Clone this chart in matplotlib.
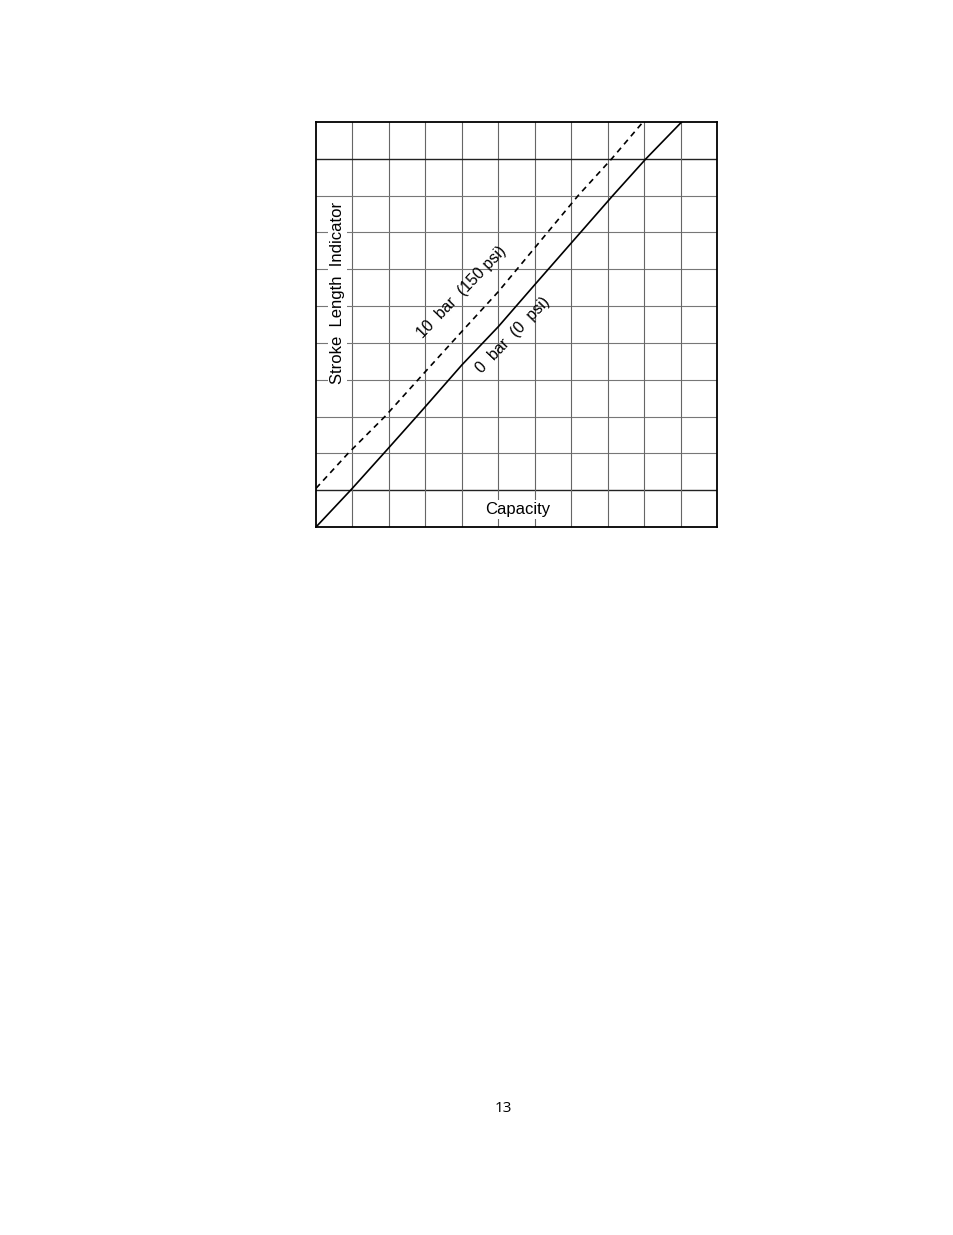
import matplotlib
matplotlib.use("Agg")
import matplotlib.pyplot as plt

# Data (grid units, 11 x 11 grid)
zero_bar_x = [0, 0.95, 1.95, 2.76, 3.0, 4.0, 5.0, 6.0, 8.14, 9.05, 10.03]
zero_bar_y = [0, 1, 2.1, 3, 3.27, 4.4, 5.44, 6.58, 9, 10, 11]
ten_bar_x = [0, 0.88, 1.89, 3.0, 4.0, 5.0, 7.19, 8.11, 8.97]
ten_bar_y = [1.05, 2, 3, 4.22, 5.31, 6.39, 9, 10, 11]
grid_positions = list(range(0, 12))
x_label = "Capacity"
y_label = "Stroke  Length  Indicator"
label_10bar = "10  bar  (150 psi)"
label_0bar = "0  bar  (0  psi)"
page_number = "13"

plt.rcParams['font.family'] = ['Liberation Sans', 'DejaVu Sans']

fig = plt.figure(figsize=(9.54, 12.35), dpi=100)
ax = fig.add_axes([316/954, 1-527/1235, 401/954, 405/1235])
ax.set_xlim(0, 11)
ax.set_ylim(0, 11)

dark_h = {1, 10}
for g in grid_positions[1:-1]:
    ax.axhline(g, color='#222222' if g in dark_h else '#777777',
               lw=1.0 if g in dark_h else 0.8, zorder=1)
    ax.axvline(g, color='#666666', lw=0.8, zorder=1)

ax.plot(zero_bar_x, zero_bar_y, color='black', lw=1.2, zorder=3)
ax.plot(ten_bar_x, ten_bar_y, color='black', lw=1.2, ls=(0, (3.5, 2.8)), zorder=3)

for s in ax.spines.values():
    s.set_linewidth(1.3)
    s.set_color('black')
ax.set_xticks([])
ax.set_yticks([])

ax.text((462-316)/36.45, (527-292)/36.8, label_10bar, rotation=46,
        ha='center', va='center', fontsize=11.5, zorder=4)
ax.text((513-316)/36.45, (527-335)/36.8, label_0bar, rotation=46,
        ha='center', va='center', fontsize=11.5, zorder=4)
ax.text((337-316)/36.45, (527-293)/36.8, y_label, rotation=90,
        ha='center', va='center', fontsize=12, zorder=4,
        bbox=dict(facecolor='white', edgecolor='none', pad=1.5))
ax.text((518-316)/36.45, (527-510)/36.8, x_label,
        ha='center', va='center', fontsize=12, zorder=4,
        bbox=dict(facecolor='white', edgecolor='none', pad=1.5))

fig.text(503/954, 1-1108/1235, page_number, ha='center', va='center',
         fontsize=11, family=['Open Sans', 'DejaVu Sans'])

fig.savefig("out.png", dpi=100, facecolor='white')
